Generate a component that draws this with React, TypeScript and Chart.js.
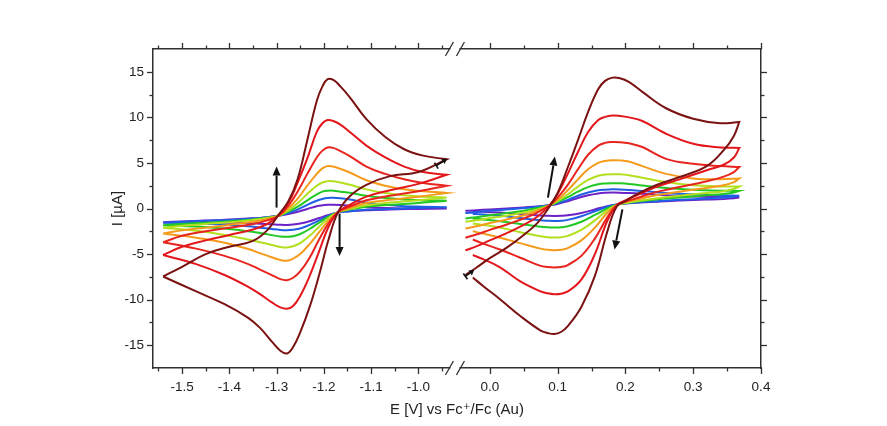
import React, { useEffect, useRef } from 'react';
import { Chart, registerables, LinearScale } from 'chart.js';

Chart.register(...registerables);

// ---------- axes ----------
const LEFT_RANGE = [-1.5614, -0.9343];
const RIGHT_RANGE = [-0.0433, 0.4];
const Y_RANGE = [-17.5, 17.5];

const X_TICKS = [-1.5, -1.4, -1.3, -1.2, -1.1, -1.0, 0.0, 0.1, 0.2, 0.3, 0.4];
const X_TICK_LABELS = ['-1.5', '-1.4', '-1.3', '-1.2', '-1.1', '-1.0', '0.0', '0.1', '0.2', '0.3', '0.4'];
const X_MINOR = [-1.55, -1.45, -1.35, -1.25, -1.15, -1.05, -0.95, 0.05, 0.15, 0.25, 0.35];
const Y_TICKS = [-15, -10, -5, 0, 5, 10, 15];
const Y_TICK_LABELS = ['-15', '-10', '-5', '0', '5', '10', '15'];
const Y_MINOR = [-12.5, -7.5, -2.5, 2.5, 7.5, 12.5];

const X_TITLE = 'E [V] vs Fc\u207A/Fc (Au)';
const Y_TITLE = 'I [\u00B5A]';

// ---------- series colours (largest to smallest scan rate) ----------
const COLORS = ['#7a1212', '#e3161c', '#e8241e', '#f59b1c', '#b2e01e', '#22c824', '#1f5fe6', '#6c22c6'];

// ---------- left wave: potentials ----------
const LEFT_FWD_E = [-1.54, -1.5, -1.45, -1.4, -1.35, -1.32, -1.296, -1.275, -1.255, -1.235, -1.215, -1.203, -1.192, -1.18, -1.165, -1.145, -1.11, -1.07, -1.03, -0.99, -0.94];
const LEFT_REV_E = [-0.94, -1.0, -1.06, -1.11, -1.145, -1.17, -1.19, -1.21, -1.23, -1.25, -1.265, -1.278, -1.292, -1.31, -1.335, -1.36, -1.41, -1.47, -1.54];

// left wave currents (µA)
const L1_FWD = [-7.46, -6.4, -5.0, -4.2, -3.55, -2.4, -0.7, 0.8, 3.3, 7.5, 11.8, 13.4, 14.2, 14.1, 13.4, 12.2, 9.8, 7.85, 6.5, 5.8, 5.4];
const L1_REV = [5.4, 4.0, 3.55, 2.6, 1.35, -0.4, -3.4, -7.3, -10.8, -13.6, -15.2, -15.9, -15.6, -14.6, -13.1, -12.0, -10.5, -9.1, -7.46];
const L2_FWD = [-5.1, -4.2, -3.5, -2.9, -2.3, -1.7, -0.8, 0.6, 2.9, 5.5, 8.4, 9.35, 9.7, 9.6, 9.2, 8.4, 6.9, 5.6, 4.6, 4.0, 3.7];
const L2_REV = [3.7, 2.7, 2.0, 1.3, 0.4, -0.4, -2.0, -4.7, -7.4, -9.6, -10.7, -11.0, -10.85, -10.3, -9.4, -8.6, -7.3, -6.1, -5.1];
const L3_FWD = [-3.7, -3.0, -2.5, -2.1, -1.7, -1.3, -0.8, 0.3, 1.9, 3.8, 5.6, 6.35, 6.7, 6.65, 6.3, 5.75, 4.6, 3.8, 3.2, 2.8, 2.5];
const L3_REV = [2.5, 1.9, 1.4, 0.9, 0.2, -0.4, -1.6, -3.4, -5.4, -6.9, -7.6, -7.86, -7.75, -7.3, -6.7, -6.1, -5.2, -4.4, -3.7];
const L4_FWD = [-2.75, -2.4, -2.1, -1.8, -1.45, -1.15, -0.8, 0.0, 1.1, 2.5, 3.8, 4.4, 4.65, 4.6, 4.35, 3.95, 3.1, 2.5, 2.1, 1.9, 1.7];
const L4_REV = [1.7, 1.3, 0.95, 0.6, 0.05, -0.4, -1.3, -2.6, -3.9, -5.0, -5.5, -5.74, -5.65, -5.35, -4.9, -4.45, -3.75, -3.2, -2.75];
const L5_FWD = [-2.1, -1.9, -1.7, -1.5, -1.25, -1.05, -0.8, -0.2, 0.6, 1.6, 2.5, 2.85, 3.0, 2.98, 2.85, 2.6, 2.1, 1.7, 1.45, 1.3, 1.2];
const L5_REV = [1.2, 0.9, 0.65, 0.35, -0.05, -0.4, -1.05, -2.0, -3.0, -3.8, -4.15, -4.28, -4.22, -4.0, -3.7, -3.4, -2.9, -2.45, -2.1];
const L6_FWD = [-1.85, -1.7, -1.55, -1.4, -1.2, -1.0, -0.8, -0.35, 0.2, 0.9, 1.55, 1.85, 1.95, 1.95, 1.85, 1.72, 1.4, 1.15, 1.0, 0.9, 0.85];
const L6_REV = [0.85, 0.6, 0.4, 0.2, -0.1, -0.4, -0.9, -1.55, -2.25, -2.8, -3.05, -3.11, -3.07, -2.92, -2.7, -2.5, -2.2, -1.98, -1.85];
const L7_FWD = [-1.55, -1.45, -1.35, -1.25, -1.1, -0.95, -0.8, -0.5, -0.1, 0.4, 0.85, 1.05, 1.15, 1.17, 1.12, 0.98, 0.65, 0.4, 0.25, 0.2, 0.15];
const L7_REV = [0.15, 0.05, -0.05, -0.15, -0.3, -0.45, -0.8, -1.3, -1.8, -2.2, -2.33, -2.38, -2.35, -2.25, -2.1, -1.95, -1.78, -1.65, -1.55];
const L8_FWD = [-1.5, -1.42, -1.33, -1.22, -1.08, -0.95, -0.8, -0.6, -0.35, -0.05, 0.25, 0.35, 0.4, 0.41, 0.38, 0.3, 0.15, 0.05, 0.0, 0.0, 0.0];
const L8_REV = [0.0, -0.05, -0.1, -0.2, -0.3, -0.45, -0.7, -1.05, -1.4, -1.65, -1.76, -1.8, -1.79, -1.74, -1.67, -1.61, -1.56, -1.52, -1.5];

// ---------- right wave: potentials ----------
const RIGHT_FWD_E = [-0.036, -0.02, 0.0, 0.025, 0.05, 0.07, 0.088, 0.1, 0.115, 0.13, 0.145, 0.16, 0.17, 0.181, 0.192, 0.205, 0.225, 0.26, 0.3, 0.34, 0.368];
const RIGHT_REV_E = [0.368, 0.36, 0.345, 0.32, 0.28, 0.245, 0.215, 0.2, 0.187, 0.173, 0.155, 0.135, 0.115, 0.105, 0.095, 0.085, 0.075, 0.045, 0.015, -0.01, -0.025];

// right wave currents (µA)
const R1_FWD = [-7.3, -6.5, -5.45, -4.3, -2.9, -1.6, 0.2, 1.7, 4.5, 7.5, 10.6, 13.1, 14.0, 14.36, 14.3, 13.9, 12.8, 11.0, 9.85, 9.35, 9.5];
const R1_REV = [9.5, 7.96, 6.4, 4.65, 3.45, 2.55, 1.5, 0.8, 0.2, -2.6, -7.4, -10.8, -12.9, -13.55, -13.78, -13.65, -13.4, -11.8, -9.95, -8.5, -7.57];
const R2_FWD = [-4.6, -4.15, -3.5, -2.7, -1.8, -0.9, 0.35, 1.6, 3.8, 6.2, 8.4, 9.7, 10.05, 10.2, 10.15, 10.0, 9.6, 8.2, 7.1, 6.7, 6.65];
const R2_REV = [6.65, 5.6, 4.8, 4.2, 3.2, 2.35, 1.4, 0.9, 0.35, -1.4, -5.0, -7.8, -9.1, -9.35, -9.4, -9.3, -9.1, -8.0, -6.45, -5.55, -5.1];
const R3_FWD = [-3.2, -2.85, -2.35, -1.75, -1.1, -0.45, 0.35, 1.2, 2.6, 4.3, 5.9, 6.9, 7.2, 7.3, 7.28, 7.15, 6.75, 5.45, 4.9, 4.65, 4.56];
const R3_REV = [4.56, 4.0, 3.5, 3.0, 2.35, 1.8, 1.1, 0.75, 0.35, -1.0, -3.3, -5.2, -6.2, -6.42, -6.47, -6.42, -6.3, -5.4, -4.5, -3.85, -3.4];
const R4_FWD = [-2.2, -1.95, -1.6, -1.2, -0.75, -0.25, 0.35, 0.95, 2.0, 3.2, 4.3, 5.0, 5.22, 5.3, 5.28, 5.15, 4.65, 3.8, 3.3, 3.2, 3.3];
const R4_REV = [3.3, 2.9, 2.55, 2.25, 1.85, 1.45, 0.95, 0.7, 0.4, -0.5, -2.1, -3.5, -4.35, -4.53, -4.57, -4.53, -4.4, -3.8, -3.2, -2.75, -2.5];
const R5_FWD = [-1.46, -1.3, -1.05, -0.8, -0.45, -0.1, 0.35, 0.8, 1.55, 2.4, 3.15, 3.6, 3.72, 3.76, 3.75, 3.65, 3.38, 2.9, 2.55, 2.42, 2.41];
const R5_REV = [2.41, 2.15, 1.9, 1.7, 1.4, 1.1, 0.8, 0.6, 0.4, -0.2, -1.3, -2.35, -3.0, -3.15, -3.18, -3.15, -3.05, -2.6, -2.1, -1.8, -1.65];
const R6_FWD = [-1.1, -0.95, -0.75, -0.5, -0.25, 0.05, 0.35, 0.7, 1.25, 1.85, 2.35, 2.65, 2.74, 2.77, 2.76, 2.7, 2.52, 2.25, 2.05, 1.95, 1.93];
const R6_REV = [1.93, 1.75, 1.6, 1.45, 1.2, 1.0, 0.75, 0.6, 0.4, 0.0, -0.7, -1.45, -1.95, -2.06, -2.08, -2.06, -2.0, -1.7, -1.4, -1.2, -1.1];
const R7_FWD = [-0.5, -0.4, -0.25, -0.1, 0.05, 0.2, 0.35, 0.6, 0.95, 1.4, 1.75, 2.0, 2.07, 2.1, 2.09, 2.04, 1.92, 1.7, 1.55, 1.45, 1.4];
const R7_REV = [1.4, 1.3, 1.2, 1.1, 0.95, 0.8, 0.65, 0.55, 0.45, 0.2, -0.3, -0.85, -1.25, -1.34, -1.36, -1.34, -1.3, -1.05, -0.8, -0.65, -0.6];
const R8_FWD = [-0.26, -0.2, -0.1, 0.0, 0.12, 0.22, 0.35, 0.5, 0.8, 1.15, 1.45, 1.65, 1.72, 1.75, 1.74, 1.7, 1.62, 1.45, 1.32, 1.25, 1.2];
const R8_REV = [1.2, 1.12, 1.05, 0.98, 0.88, 0.75, 0.62, 0.55, 0.45, 0.25, -0.1, -0.5, -0.75, -0.8, -0.81, -0.8, -0.78, -0.6, -0.45, -0.35, -0.32];

// ---------- annotations: arrows [x1, y1, x2, y2] in data units ----------
const BIG_ARROWS = [
  [-1.3, 0.1, -1.3, 4.6],
  [-1.1667, -0.6, -1.1667, -5.2],
  [0.0857, 1.2, 0.096, 5.7],
  [0.1956, -0.1, 0.184, -4.5],
];
const START_MARKS = [
  [-0.962, 4.7, -0.939, 5.45],
  [-0.036, -7.45, -0.023, -6.75],
];

const LEFT_SETS = [
  [L1_FWD, L1_REV], [L2_FWD, L2_REV], [L3_FWD, L3_REV], [L4_FWD, L4_REV],
  [L5_FWD, L5_REV], [L6_FWD, L6_REV], [L7_FWD, L7_REV], [L8_FWD, L8_REV],
];
const RIGHT_SETS = [
  [R1_FWD, R1_REV], [R2_FWD, R2_REV], [R3_FWD, R3_REV], [R4_FWD, R4_REV],
  [R5_FWD, R5_REV], [R6_FWD, R6_REV], [R7_FWD, R7_REV], [R8_FWD, R8_REV],
];

// ---------- style ----------
const AXIS_COLOR = '#303030';
const TEXT_COLOR = '#222222';
const FONT_FAMILY = '"Liberation Sans", Arial, "DejaVu Sans", sans-serif';
const PX_PER_V_LEFT = 472;
const PX_PER_V_RIGHT = 677;
const GAP_PX = 11;

// Broken linear axis: two linear segments with a gap in between
class BrokenScale extends LinearScale {
  static id = 'broken';
  static defaults = LinearScale.defaults;
  fractions() {
    const l = (LEFT_RANGE[1] - LEFT_RANGE[0]) * PX_PER_V_LEFT;
    const r = (RIGHT_RANGE[1] - RIGHT_RANGE[0]) * PX_PER_V_RIGHT;
    const tot = l + GAP_PX + r;
    return [l / tot, (l + GAP_PX) / tot];
  }
  getPixelForValue(v: any) {
    if (v === null || v === undefined || isNaN(v)) return NaN;
    const [f1, f2] = this.fractions();
    const mid = (LEFT_RANGE[1] + RIGHT_RANGE[0]) / 2;
    let d;
    if (v < mid) d = ((v - LEFT_RANGE[0]) / (LEFT_RANGE[1] - LEFT_RANGE[0])) * f1;
    else d = f2 + ((v - RIGHT_RANGE[0]) / (RIGHT_RANGE[1] - RIGHT_RANGE[0])) * (1 - f2);
    return this.getPixelForDecimal(d);
  }
  getValueForPixel(p: number) {
    const d = this.getDecimalForPixel(p);
    const [f1, f2] = this.fractions();
    if (d < (f1 + f2) / 2) return LEFT_RANGE[0] + (d / f1) * (LEFT_RANGE[1] - LEFT_RANGE[0]);
    return RIGHT_RANGE[0] + ((d - f2) / (1 - f2)) * (RIGHT_RANGE[1] - RIGHT_RANGE[0]);
  }
}
Chart.register(BrokenScale as any);

function zip(es: number[], is: number[]) {
  return es.map((e, i) => ({ x: e, y: is[i] }));
}

function drawArrow(ctx: CanvasRenderingContext2D, x1: number, y1: number, x2: number, y2: number, head: number, half: number) {
  const ang = Math.atan2(y2 - y1, x2 - x1);
  const bx = x2 - head * Math.cos(ang);
  const by = y2 - head * Math.sin(ang);
  ctx.beginPath();
  ctx.moveTo(x1, y1);
  ctx.lineTo(bx, by);
  ctx.stroke();
  ctx.beginPath();
  ctx.moveTo(x2, y2);
  ctx.lineTo(bx + half * Math.sin(ang), by - half * Math.cos(ang));
  ctx.lineTo(bx - half * Math.sin(ang), by + half * Math.cos(ang));
  ctx.closePath();
  ctx.fill();
}

const decorPlugin = {
  id: 'decor',
  afterDatasetsDraw(chart: any) {
    const { ctx, scales } = chart;
    const xs = scales.x, ys = scales.y;
    ctx.save();
    ctx.strokeStyle = '#111';
    ctx.fillStyle = '#111';
    ctx.lineWidth = 2;
    BIG_ARROWS.forEach(([a, b, c, d]) => {
      drawArrow(ctx, xs.getPixelForValue(a), ys.getPixelForValue(b), xs.getPixelForValue(c), ys.getPixelForValue(d), 9, 4);
    });
    ctx.lineWidth = 1.6;
    START_MARKS.forEach(([a, b, c, d]) => {
      const x1 = xs.getPixelForValue(a), y1 = ys.getPixelForValue(b);
      const x2 = xs.getPixelForValue(c), y2 = ys.getPixelForValue(d);
      drawArrow(ctx, x1, y1, x2, y2, 5, 3);
      const ang = Math.atan2(y2 - y1, x2 - x1);
      ctx.beginPath();
      ctx.moveTo(x1 + 3.5 * Math.sin(ang), y1 - 3.5 * Math.cos(ang));
      ctx.lineTo(x1 - 3.5 * Math.sin(ang), y1 + 3.5 * Math.cos(ang));
      ctx.stroke();
    });
    ctx.restore();
  },
  afterDraw(chart: any) {
    const { ctx, chartArea: a, scales } = chart;
    const xs = scales.x, ys = scales.y;
    const line = (x1: number, y1: number, x2: number, y2: number) => {
      ctx.beginPath();
      ctx.moveTo(x1, y1);
      ctx.lineTo(x2, y2);
      ctx.stroke();
    };
    ctx.save();
    ctx.strokeStyle = AXIS_COLOR;
    ctx.lineWidth = 1.3;
    const MAJ = 6, MIN = 3.5;
    const vt = (v: number, len: number) => {
      const px = Math.round(xs.getPixelForValue(v)) + 0.5;
      line(px, a.bottom, px, a.bottom + len);
      line(px, a.top, px, a.top - len);
    };
    const ht = (v: number, len: number) => {
      const py = Math.round(ys.getPixelForValue(v)) + 0.5;
      line(a.left - len, py, a.left, py);
      line(a.right, py, a.right + len, py);
    };
    X_TICKS.forEach((v) => vt(v, MAJ));
    X_MINOR.forEach((v) => vt(v, MIN));
    Y_TICKS.forEach((v) => ht(v, MAJ));
    Y_MINOR.forEach((v) => ht(v, MIN));
    // axis break marks
    const b1 = xs.getPixelForValue(LEFT_RANGE[1]);
    const b2 = xs.getPixelForValue(RIGHT_RANGE[0]);
    [a.top, a.bottom].forEach((y: number) => {
      ctx.fillStyle = '#ffffff';
      ctx.fillRect(b1 + 1, y - 3, b2 - b1 - 2, 6);
      ctx.lineWidth = 1.3;
      line(b1 - 4, y + 7, b1 + 4, y - 7);
      line(b2 - 4, y + 7, b2 + 4, y - 7);
    });
    ctx.restore();
  },
};

function buildDatasets() {
  const ds: any[] = [];
  LEFT_SETS.forEach(([f, r], i) => {
    ds.push({ data: [...zip(LEFT_FWD_E, f), ...zip(LEFT_REV_E, r)], borderColor: COLORS[i], backgroundColor: COLORS[i] });
  });
  RIGHT_SETS.forEach(([f, r], i) => {
    ds.push({ data: [...zip(RIGHT_FWD_E, f), ...zip(RIGHT_REV_E, r)], borderColor: COLORS[i], backgroundColor: COLORS[i] });
  });
  return ds;
}

function nearestLabel(v: number, ticks: number[], labels: string[]) {
  let best = 0;
  ticks.forEach((t, i) => { if (Math.abs(t - v) < Math.abs(ticks[best] - v)) best = i; });
  return labels[best];
}

const border = { display: true, color: AXIS_COLOR, width: 1.5 };
const noGrid = { display: false, drawTicks: false };
const tickFont = { family: FONT_FAMILY, size: 13.5 };
const titleFont = { family: FONT_FAMILY, size: 15 };

export default function App() {
  const ref = useRef<HTMLCanvasElement>(null);
  useEffect(() => {
    const chart = new Chart(ref.current as HTMLCanvasElement, {
      type: 'scatter',
      data: { datasets: buildDatasets() },
      options: {
        animation: false,
        responsive: false,
        layout: { padding: 0 },
        showLine: true,
        plugins: { legend: { display: false }, tooltip: { enabled: false } },
        elements: { point: { radius: 0, hoverRadius: 0 }, line: { tension: 0.4, borderWidth: 2 } },
        scales: {
          x: {
            type: 'broken',
            position: 'bottom',
            min: LEFT_RANGE[0],
            max: RIGHT_RANGE[1],
            afterBuildTicks: (s: any) => { s.ticks = X_TICKS.map((v) => ({ value: v })); },
            afterFit: (s: any) => { s.height = 58; },
            grid: noGrid,
            border,
            ticks: {
              autoSkip: false, maxRotation: 0, minRotation: 0, padding: 11, color: TEXT_COLOR, font: tickFont,
              callback: (v: any) => nearestLabel(Number(v), X_TICKS, X_TICK_LABELS),
            },
            title: { display: true, text: X_TITLE, color: TEXT_COLOR, font: titleFont, padding: { top: 0, bottom: 7 } },
          },
          x2: {
            type: 'broken',
            position: 'top',
            min: LEFT_RANGE[0],
            max: RIGHT_RANGE[1],
            afterFit: (s: any) => { s.height = 49; },
            grid: noGrid,
            border,
            ticks: { display: false },
          },
          y: {
            type: 'linear',
            position: 'left',
            min: Y_RANGE[0],
            max: Y_RANGE[1],
            afterBuildTicks: (s: any) => { s.ticks = Y_TICKS.map((v) => ({ value: v })); },
            afterFit: (s: any) => { s.width = 153; },
            grid: noGrid,
            border,
            ticks: {
              autoSkip: false, padding: 9, color: TEXT_COLOR, font: tickFont,
              callback: (v: any) => nearestLabel(Number(v), Y_TICKS, Y_TICK_LABELS),
            },
            title: { display: true, text: Y_TITLE, color: TEXT_COLOR, font: titleFont, padding: { top: 109, bottom: 0 } },
          },
          y2: {
            type: 'linear',
            position: 'right',
            min: Y_RANGE[0],
            max: Y_RANGE[1],
            afterFit: (s: any) => { s.width = 126; },
            grid: noGrid,
            border,
            ticks: { display: false },
          },
        },
      } as any,
      plugins: [decorPlugin],
    });
    return () => chart.destroy();
  }, []);
  return (
    <div style={{ position: 'absolute', left: 0, top: 0, width: 887, height: 426, background: '#ffffff' }}>
      <canvas ref={ref} width={887} height={426} style={{ display: 'block' }} />
    </div>
  );
}
